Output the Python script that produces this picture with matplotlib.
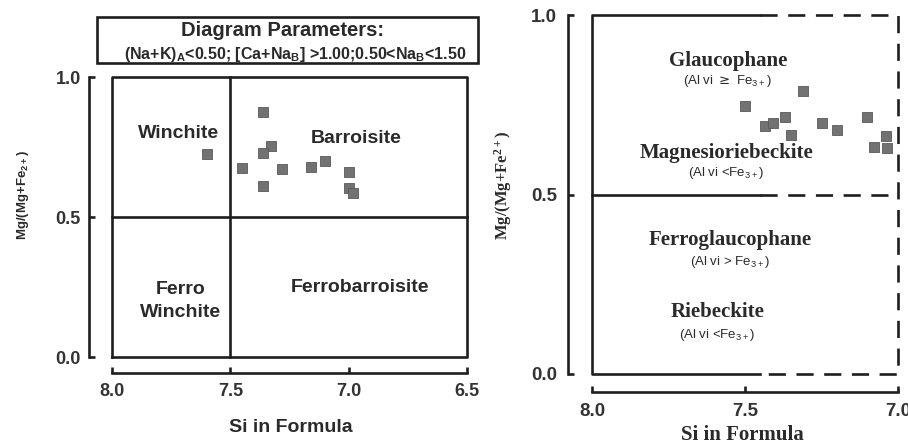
import matplotlib
matplotlib.use("Agg")
import matplotlib.pyplot as plt
from matplotlib.patches import Rectangle

# calcic-sodic amphiboles (left diagram)
si_left = [7.60, 7.36, 7.33, 7.36, 7.45, 7.28, 7.36, 7.16, 7.10, 7.00, 7.00, 6.98]
mg_left = [0.725, 0.875, 0.754, 0.73, 0.675, 0.67, 0.61, 0.68, 0.70, 0.66, 0.605, 0.585]

# sodic amphiboles (right diagram)
si_right = [7.31, 7.50, 7.435, 7.41, 7.37, 7.35, 7.25, 7.20, 7.10, 7.04, 7.08, 7.035]
mg_right = [0.788, 0.747, 0.69, 0.70, 0.715, 0.666, 0.70, 0.68, 0.715, 0.663, 0.632, 0.63]

xticks_left = [8.0, 7.5, 7.0, 6.5]
xticks_right = [8.0, 7.5, 7.0]
yticks = [0.0, 0.5, 1.0]

SANS = "Liberation Sans"
SERIF = "Liberation Serif"
INK = "#1e1e1e"
W, H = 908, 446

fig = plt.figure(figsize=(W / 100, H / 100), dpi=100)


def px_axes(x0, y0, x1, y1):
    # pixel box (top-left origin) -> axes
    return fig.add_axes([x0 / W, 1 - y1 / H, (x1 - x0) / W, (y1 - y0) / H])


def style_axes(ax, xlim, xt, yoff, xoff, pad_x, pad_y, fs):
    ax.set_xlim(*xlim)
    ax.set_ylim(0, 1)
    ax.set_xticks(xt)
    ax.set_xticklabels(["%.1f" % v for v in xt])
    ax.set_yticks(yticks)
    ax.set_yticklabels(["%.1f" % v for v in yticks])
    for s in ("top", "right"):
        ax.spines[s].set_visible(False)
    ax.spines["left"].set_position(("outward", yoff))
    ax.spines["bottom"].set_position(("outward", xoff))
    for s in ("left", "bottom"):
        ax.spines[s].set_linewidth(1.9)
        ax.spines[s].set_color(INK)
    ax.tick_params(axis="both", direction="in", length=4, width=1.9, color=INK)
    ax.tick_params(axis="x", pad=pad_x)
    ax.tick_params(axis="y", pad=pad_y)
    for lab in ax.get_xticklabels() + ax.get_yticklabels():
        lab.set_fontfamily(SANS)
        lab.set_fontweight("bold")
        lab.set_fontsize(fs)
        lab.set_color("#333333")
    ax.patch.set_visible(False)


# ---------------- left panel ----------------
ax1 = px_axes(112, 77, 467, 357)
style_axes(ax1, (8.0, 6.5), xticks_left, 16.5, 11.5, 7, 6, 13)

kw = dict(color=INK, lw=1.9, clip_on=False, solid_capstyle="projecting")
ax1.plot([8.0, 6.5, 6.5, 8.0, 8.0], [0, 0, 1, 1, 0], **kw)
ax1.plot([7.5, 7.5], [0, 1], **kw)
ax1.plot([8.0, 6.5], [0.5, 0.5], **kw)

ax1.scatter(si_left, mg_left, marker="s", s=52, color="#727272",
            edgecolors="#5a5a5a", linewidths=0.6, zorder=3, clip_on=False)

tkw = dict(fontfamily=SANS, fontweight="bold", fontsize=14, color="#2a2a2a",
           ha="center", va="center")
ax1.text(7.72, 0.80, "Winchite", **tkw)
ax1.text(6.97, 0.78, "Barroisite", **tkw)
ax1.text(7.71, 0.20, "Ferro\nWinchite", linespacing=1.45, **tkw)
ax1.text(6.95, 0.25, "Ferrobarroisite", **tkw)

ax1.set_xlabel("Si in Formula", fontfamily=SANS, fontweight="bold",
               fontsize=14, color="#2a2a2a", va="center")
ax1.xaxis.set_label_coords(0.504, -0.25)
ax1.set_ylabel(r"Mg/(Mg+Fe$\mathregular{_{2+}}$)", fontfamily=SANS,
               fontweight="bold", fontsize=9.5, color="#2a2a2a", va="center")
ax1.yaxis.set_label_coords(-0.25, 0.58)

# parameter box above the left panel
fig.patches.append(Rectangle((97 / W, 1 - 63 / H), (478 - 97) / W, (63 - 17) / H,
                             transform=fig.transFigure, fill=False,
                             edgecolor=INK, lw=1.9))
fig.text(283 / W, 1 - 31 / H, "Diagram Parameters:", fontfamily=SANS,
         fontweight="bold", fontsize=14.5, color="#2a2a2a", ha="center", va="center")
fig.text(295 / W, 1 - 54 / H,
         r"(Na+K)$\mathregular{_A}$<0.50; [Ca+Na$\mathregular{_B}$] >1.00;0.50<Na$\mathregular{_B}$<1.50",
         fontfamily=SANS, fontweight="bold", fontsize=11.5, color="#2a2a2a",
         ha="center", va="center")

# ---------------- right panel ----------------
ax2 = px_axes(592, 15, 898, 374)
style_axes(ax2, (8.0, 7.0), xticks_right, 17.3, 13, 8, 8, 13.5)

ax2.plot([7.45, 8.0, 8.0, 7.45], [1, 1, 0, 0], **kw)
ax2.plot([8.0, 7.45], [0.5, 0.5], **kw)
dkw = dict(kw, linestyle=(0, (6.5, 4)))
dkw.pop("solid_capstyle")
ax2.plot([7.45, 7.0, 7.0, 7.45], [1, 1, 0, 0], **dkw)
ax2.plot([7.45, 7.0], [0.5, 0.5], **dkw)

ax2.scatter(si_right, mg_right, marker="s", s=56, color="#727272",
            edgecolors="#5a5a5a", linewidths=0.6, zorder=3, clip_on=False)

nkw = dict(fontfamily=SERIF, fontweight="bold", fontsize=15, color="#2a2a2a",
           ha="center", va="center")
skw = dict(fontfamily=SANS, fontsize=9.5, color="#2a2a2a", ha="center", va="center")
ax2.text(7.556, 0.872, "Glaucophane", **nkw)
ax2.text(7.556, 0.816, r"(Al vi $\geq$ Fe$\mathregular{_{3+}}$)", **skw)
ax2.text(7.56, 0.616, "Magnesioriebeckite", **nkw)
ax2.text(7.56, 0.560, r"(Al vi <Fe$\mathregular{_{3+}}$)", **skw)
ax2.text(7.55, 0.373, "Ferroglaucophane", **nkw)
ax2.text(7.55, 0.312, r"(Al vi > Fe$\mathregular{_{3+}}$)", **skw)
ax2.text(7.59, 0.173, "Riebeckite", **nkw)
ax2.text(7.59, 0.11, r"(Al vi <Fe$\mathregular{_{3+}}$)", **skw)

ax2.set_xlabel("Si in Formula", fontfamily=SERIF, fontweight="bold",
               fontsize=15, color="#2a2a2a", va="center")
ax2.xaxis.set_label_coords(0.49, -0.17)
ax2.set_ylabel(r"Mg/(Mg+Fe$\mathregular{^{2+}}$)", fontfamily=SERIF,
               fontweight="bold", fontsize=12, color="#2a2a2a", va="center")
ax2.yaxis.set_label_coords(-0.29, 0.526)

fig.savefig("out.png", dpi=100, facecolor="white")
